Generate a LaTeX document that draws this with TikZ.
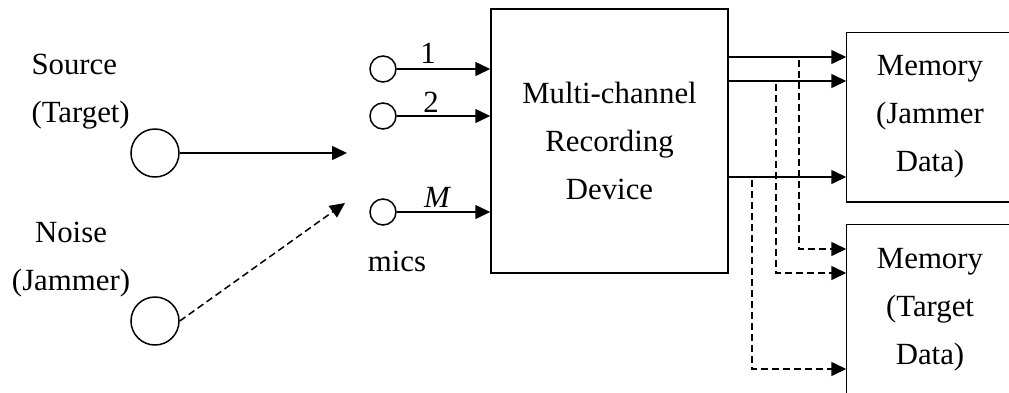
\documentclass[tikz,border=0pt]{standalone}
\usepackage{fontspec}
\setmainfont{Liberation Serif}
\usetikzlibrary{arrows.meta,calc}
\begin{document}
\begin{tikzpicture}[x=1pt,y=-1pt,
  every node/.style={font=\fontsize{30.8}{48}\selectfont},
  line/.style={line width=1.5pt},
  arr/.style={line width=1.5pt,-{Triangle[length=15pt,width=14pt]}},
  dsh/.style={dash pattern=on 7pt off 4pt},
  bigcirc/.style={circle,draw,line width=1.5pt,minimum size=48pt,inner sep=0pt},
  mic/.style={circle,draw,line width=1.5pt,minimum size=26pt,inner sep=0pt},
  boxn/.style={rectangle,line width=1.5pt,inner sep=0pt,align=center}]
\clip (0,0) rectangle (1009,392);
\useasboundingbox (0,0) rectangle (1009,392);
% sources
\node[anchor=west,align=left] (srctxt) at (28,92) {Source\\(Target)};
\node[align=center] (jamtxt) at (71,260) {Noise\\(Jammer)};
\node[bigcirc] (src) at (155,153) {};
\node[bigcirc] (jam) at (155,321) {};
\coordinate (srcend) at (347,153);
\coordinate (jamend) at (345,203);
\draw[arr] (src.east) -- (srcend);
\draw[arr,dsh] (jam.east) -- (jamend);
% mics
\node[mic] (m1) at (383,69) {};
\node[mic] (m2) at (383,116) {};
\node[mic] (mM) at (383,212) {};
\node (mics) at (397,261) {mics};
% recorder
\node[boxn,draw,minimum width=237pt,minimum height=264pt] (rec) at (609.5,141) {Multi-channel\\Recording\\Device};
\draw[arr] (m1) -- (m1 -| rec.west);
\draw[arr] (m2) -- (m2 -| rec.west);
\draw[arr] (mM) -- (mM -| rec.west);
\node (l1) at (428,53) {1};
\node (l2) at (431,102) {2};
\node (lM) at (437,197) {\itshape M};
% memories (right and bottom sides lie outside the picture)
\node[boxn,minimum width=166pt,minimum height=168pt] (mem1) at (930,117) {Memory\\(Jammer\\Data)};
\node[boxn,minimum width=166pt,minimum height=170pt] (mem2) at (930,310) {Memory\\(Target\\Data)};
\draw[line] ($(mem1.north east)+(30,0)$) -- (mem1.north west) -- (mem1.south west) -- ($(mem1.south east)+(30,0)$);
\draw[line] ($(mem2.north east)+(30,0)$) -- (mem2.north west) -- ($(mem2.south west)+(0,20)$);
\coordinate (o1) at (rec.east |- 0,57);
\coordinate (o2) at (rec.east |- 0,81);
\coordinate (o3) at (rec.east |- 0,177);
\draw[arr] (o1) -- (mem1.west |- o1);
\draw[arr] (o2) -- (mem1.west |- o2);
\draw[arr] (o3) -- (mem1.west |- o3);
\coordinate (t1) at (799,60);
\coordinate (t2) at (776,84);
\coordinate (t3) at (752,180);
\coordinate (b1) at (799,249);
\coordinate (b2) at (776,273);
\coordinate (b3) at (752,369);
\draw[arr,dsh] (t1) -- (b1) -- (mem2.west |- b1);
\draw[arr,dsh] (t2) -- (b2) -- (mem2.west |- b2);
\draw[arr,dsh] (t3) -- (b3) -- (mem2.west |- b3);
\end{tikzpicture}
\end{document}
